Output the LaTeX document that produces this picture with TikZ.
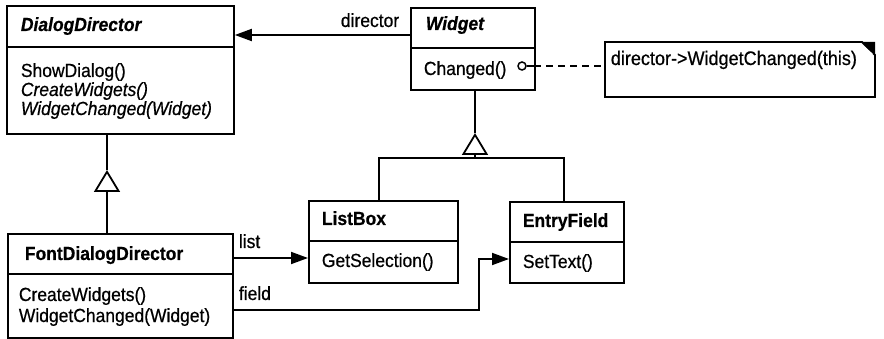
\documentclass[tikz,border=0pt]{standalone}
\usepackage{fontspec}
\setmainfont[FakeStretch=0.92,FakeBold=0.6]{Liberation Sans}
\usetikzlibrary{arrows.meta}
\begin{document}
\begin{tikzpicture}[x=1pt,y=-1pt,line width=1.8pt,
  classbox/.style={draw,inner sep=0pt,anchor=north west},
  txt/.style={anchor=base west,inner sep=0pt,font=\fontsize{19}{19}\selectfont},
  assoc/.style={-{Triangle[length=17pt,width=12pt]}},
  gentri/.style={-{Triangle[open,length=22pt,width=26pt,line width=1.8pt]}},
  notebox/.style={draw,line join=miter}]
\useasboundingbox (0,0) rectangle (884,339);
% class boxes
\node[classbox,minimum width=227pt,minimum height=128pt] (dd) at (6,5) {};
\node[classbox,minimum width=124pt,minimum height=82pt] (w) at (410,7) {};
\node[classbox,minimum width=149pt,minimum height=82pt] (lb) at (308,200) {};
\node[classbox,minimum width=114pt,minimum height=81pt] (ef) at (509,201) {};
\node[classbox,minimum width=225pt,minimum height=104pt] (fdd) at (7,233) {};
% dividers
\draw (dd.west |- 0,47) -- (dd.east |- 0,47);
\draw (w.west |- 0,48) -- (w.east |- 0,48);
\draw (lb.west |- 0,241) -- (lb.east |- 0,241);
\draw (ef.west |- 0,242) -- (ef.east |- 0,242);
\draw (fdd.west |- 0,274) -- (fdd.east |- 0,274);
% texts
\node[txt] (ddn) at (20,31) {\textbf{\textit{DialogDirector}}};
\node[txt] (dd1) at (20,77) {ShowDialog()};
\node[txt] (dd2) at (20,96) {\textit{CreateWidgets()}};
\node[txt] (dd3) at (20,115) {\textit{WidgetChanged(Widget)}};
\node[txt] (wn) at (425,30) {\textbf{\textit{Widget}}};
\node[txt] (w1) at (423,75) {Changed()};
\node[txt] (lbn) at (321,225) {\textbf{ListBox}};
\node[txt] (lb1) at (321,267) {GetSelection()};
\node[txt] (efn) at (522,227) {\textbf{EntryField}};
\node[txt] (ef1) at (522,268) {SetText()};
\node[txt] (fddn) at (24,260) {\textbf{FontDialogDirector}};
\node[txt] (fdd1) at (18,301) {CreateWidgets()};
\node[txt] (fdd2) at (18,322) {WidgetChanged(Widget)};
% note
\draw[notebox] (605,42) -- (862,42) -- (875,55) -- (875,97) -- (605,97) -- cycle;
\fill (862,42) -- (875,42) -- (875,55) -- cycle;
\fill[white] (865,47) -- (865,54) -- (873,54) -- cycle;
\coordinate (note) at (605,66);
\node[txt,font=\fontsize{19.6}{19.6}\selectfont] (nt) at (610,65) {director->WidgetChanged(this)};
% circle and dashed line
\node[draw,circle,inner sep=0pt,minimum size=8pt,line width=1.5pt] (c) at (522,66) {};
\draw (c) -- (534,66);
\draw[dash pattern=on 7pt off 5pt] (534,66) -- (note);
% labels
\node[txt] (ldir) at (340,27) {director};
\node[txt] (llist) at (238,248) {list};
\node[txt] (lfield) at (238,300) {field};
% associations
\draw[assoc] (w.west |- 0,35) -- (dd.east |- 0,35);
\draw[assoc] (fdd.east |- 0,258) -- (lb.west |- 0,258);
\draw[assoc] (fdd.east |- 0,310) -- (479,310) -- (479,259) -- (ef.west |- 0,259);
% generalization Widget
\coordinate (wt) at (475,133);
\coordinate (wb) at (475,158);
\draw (w.south -| wt) -- (wt);
\draw[gentri] (wb) -- (wt);
\draw (lb.north -| 379,0) -- (379,158) -- (564,158) -- (ef.north -| 564,0);
% generalization DialogDirector
\coordinate (dt) at (107,170);
\coordinate (db) at (107,192);
\draw (dd.south -| dt) -- (dt);
\draw[gentri] (db) -- (dt);
\draw (db) -- (fdd.north -| db);
\end{tikzpicture}
\end{document}
